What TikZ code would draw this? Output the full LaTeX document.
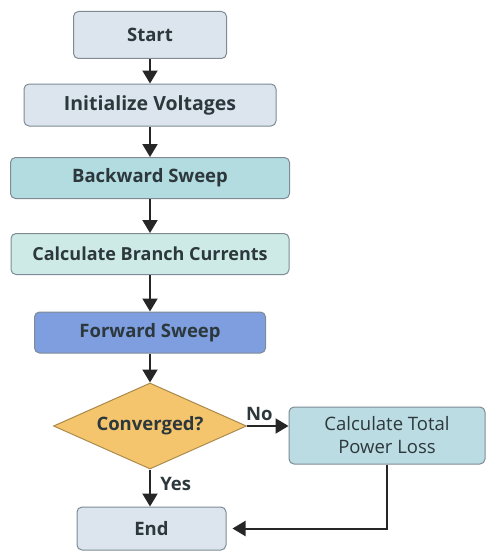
\documentclass[tikz,border=0pt]{standalone}
\usepackage{fontspec}
\setmainfont{Open Sans}
\usepackage{tikz}
\usetikzlibrary{shapes.geometric,arrows.meta,positioning}
\definecolor{bord}{HTML}{7E8B95}
\definecolor{txt}{HTML}{2C383C}
\definecolor{startc}{HTML}{DCE5ED}
\definecolor{backc}{HTML}{B3DCE0}
\definecolor{branchc}{HTML}{CDEAE6}
\definecolor{fwdc}{HTML}{7E9EE0}
\definecolor{convc}{HTML}{F4C56C}
\definecolor{lossc}{HTML}{BBDCE2}

\tikzset{
  lbl/.style={text=txt,font=\fontsize{18.5}{22}\selectfont\bfseries},
  box/.style={draw=bord,line width=1pt,rounded corners=5pt,lbl,inner sep=0pt},
  fleche/.style={-{Triangle[width=15pt,length=13pt]},line width=2pt,draw=black!85}
}

\begin{document}
\begin{tikzpicture}[x=1pt,y=1pt]
\useasboundingbox (0,0) rectangle (487,-551);
\node[box,fill=startc,minimum width=153pt,minimum height=47pt](start)at(150,-35){Start};
\node[box,fill=startc,minimum width=252pt,minimum height=42pt,font=\fontsize{19.5}{22}\selectfont\bfseries](init)at(150,-105){Initialize Voltages};
\node[box,fill=backc,minimum width=279pt,minimum height=41pt](back)at(150,-178){Backward Sweep};
\node[box,fill=branchc,minimum width=278pt,minimum height=41pt,font=\fontsize{18}{22}\selectfont\bfseries](branch)at(150,-254){Calculate Branch Currents};
\node[box,fill=fwdc,minimum width=231pt,minimum height=41pt](fwd)at(150,-332.5){Forward Sweep};
\node[box,shape=diamond,rounded corners=0pt,fill=convc,draw=convc!70!black,minimum width=193pt,minimum height=86pt,label={[lbl]center:Converged?}](conv)at(150,-426){};
\node[box,fill=lossc,align=center,font=\fontsize{18.5}{23}\selectfont,minimum width=196pt,minimum height=57pt](loss)at(387,-435.5){Calculate Total\\Power Loss};
\node[box,fill=startc,minimum width=149pt,minimum height=43pt](end)at(151.5,-528.5){End};
% les fleches
\draw[fleche](start)--(init);
\draw[fleche](init)--(back);
\draw[fleche](back)--(branch);
\draw[fleche](branch)--(fwd);
\draw[fleche](fwd)--(conv);
\draw[fleche](conv.east)--(conv.east-|loss.west)node[pos=0.3,above=1pt,lbl](no){No};
\draw[fleche](conv.south)--(conv.south|-end.north)node[pos=0.4,right=6pt,lbl](yes){Yes};
\draw[fleche,shorten >=6pt](loss.south)|-(end.east);
\end{tikzpicture}
\end{document}
